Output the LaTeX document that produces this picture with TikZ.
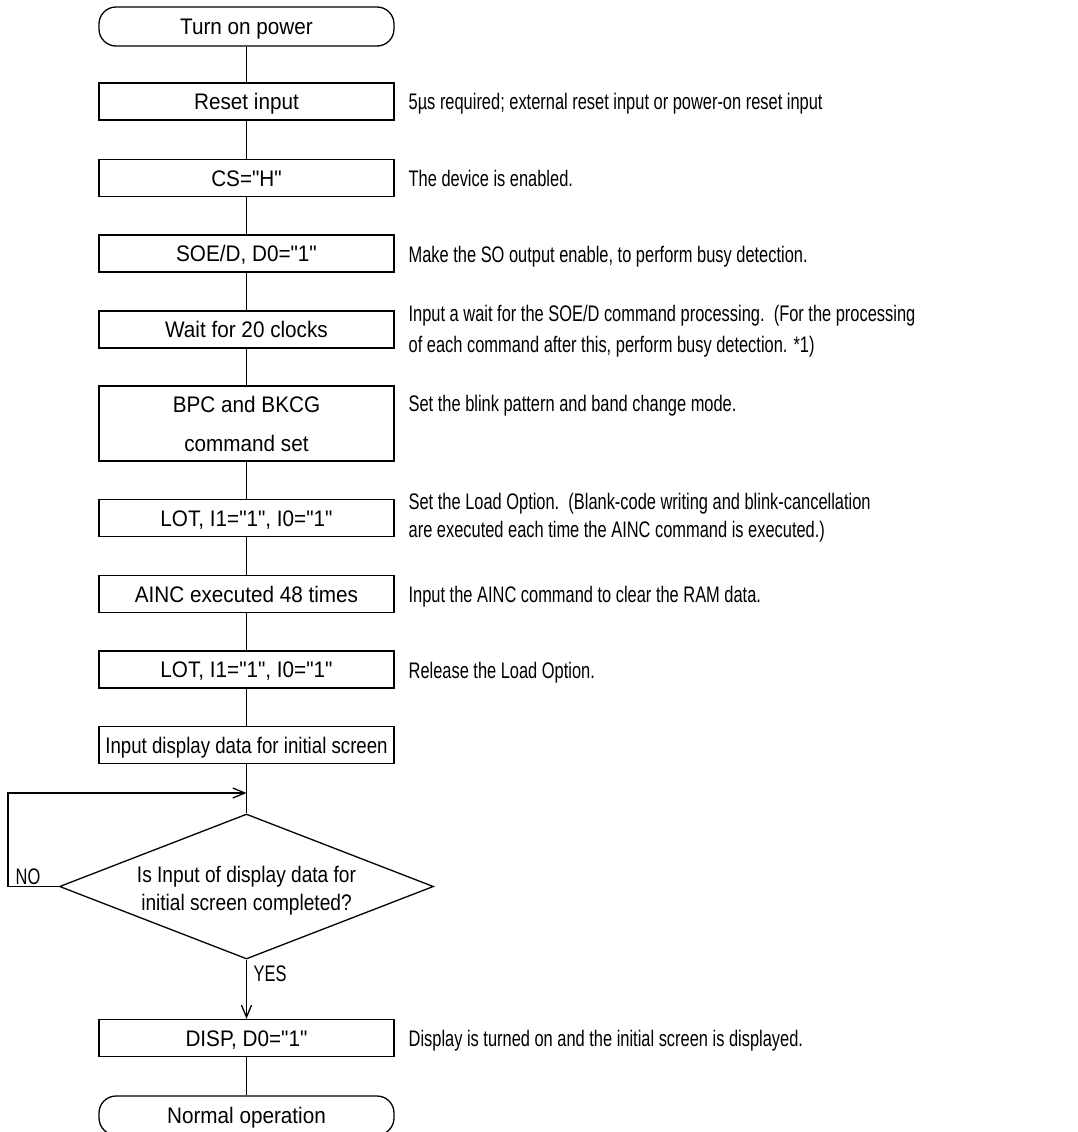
\documentclass[tikz,border=0pt]{standalone}
\usepackage{fontspec}
\setmainfont[FakeStretch=0.73,Ligatures=TeXOff]{Liberation Sans}
\newfontfamily\boxfont[FakeStretch=0.92,Ligatures=TeXOff]{Liberation Sans}
\newfontfamily\tightboxfont[FakeStretch=0.83,Ligatures=TeXOff]{Liberation Sans}
\newfontfamily\decfont[FakeStretch=0.85,Ligatures=TeXOff]{Liberation Sans}
\usetikzlibrary{shapes.geometric,arrows.meta}
\begin{document}
\begin{tikzpicture}[x=1pt,y=-1pt,line width=1.3pt,
  every node/.style={font=\fontsize{22.5}{30}\selectfont},
  boxbase/.style={draw, minimum width=295pt, minimum height=37pt, inner sep=0pt, font=\boxfont\fontsize{22.5}{30}\selectfont},
  onel/.style={text height=16pt, text depth=0pt},
  procbox/.style={boxbase, onel},
  termbox/.style={boxbase, onel, rounded corners=17pt, minimum height=39pt},
  note/.style={anchor=west, inner sep=0pt, align=left},
  lbl/.style={anchor=west, inner sep=0pt, onel},
  arr/.style={-{Straight Barb[length=12pt,width=10pt]}}
]
\useasboundingbox (0,0) rectangle (1077,1132);

% flow boxes
\node[termbox] (start) at (246.5,26.5) {Turn on power};
\node[procbox] (reset) at (246.5,101.5) {Reset input};
\node[procbox] (cs) at (246.5,178) {CS="H"};
\node[procbox] (soe) at (246.5,253.5) {SOE/D, D0="1"};
\node[procbox] (wait) at (246.5,329.5) {Wait for 20 clocks};
\node[boxbase, minimum height=75pt, align=center, font=\boxfont\fontsize{22.5}{39}\selectfont] (bpc) at (246.5,423.5) {BPC and BKCG\\command set};
\node[procbox] (lot1) at (246.5,518) {LOT, I1="1", I0="1"};
\node[procbox] (ainc) at (246.5,594) {AINC executed 48 times};
\node[procbox] (lot2) at (246.5,669.5) {LOT, I1="1", I0="1"};
\node[procbox, font=\tightboxfont\fontsize{22.5}{30}\selectfont] (input) at (246.5,745) {Input display data for initial screen};
\node[draw, diamond, inner sep=0pt, minimum width=374pt, minimum height=145pt] (dec) at (246.5,886.5) {};
\node[align=center, inner sep=0pt, font=\decfont\fontsize{22.5}{28}\selectfont] (dectext) at (246.5,891) {Is Input of display data for\\initial screen completed?};
\node[procbox] (disp) at (246.5,1038) {DISP, D0="1"};
\node[termbox] (end) at (246.5,1115.5) {Normal operation};

% notes
\node[note, onel] (n1) at (408,101.5) {5µs required; external reset input or power-on reset input};
\node[note, onel] (n2) at (408,178) {The device is enabled.};
\node[note, onel] (n3) at (408,254) {Make the SO output enable, to perform busy detection.};
\node[note, font=\fontsize{22.5}{31}\selectfont] (n4) at (408,331) {Input a wait for the SOE/D command processing.\ \ (For the processing\\of each command after this, perform busy detection. *1)};
\node[note, onel] (n5) at (408,403) {Set the blink pattern and band change mode.};
\node[note, font=\fontsize{22.5}{28}\selectfont] (n6) at (408,518) {Set the Load Option.\ \ (Blank-code writing and blink-cancellation\\are executed each time the AINC command is executed.)};
\node[note, onel] (n7) at (408,594) {Input the AINC command to clear the RAM data.};
\node[note, onel] (n8) at (408,670) {Release the Load Option.};
\node[note, onel] (n9) at (408,1038) {Display is turned on and the initial screen is displayed.};

% branch labels
\node[lbl] (no) at (15,876) {NO};
\node[lbl] (yes) at (253,973) {YES};

% connectors
\coordinate (join) at (246.5,793);
\coordinate (lp1) at (8,886.5);
\coordinate (lp2) at (8,793);
\draw (start) -- (reset);
\draw (reset) -- (cs);
\draw (cs) -- (soe);
\draw (soe) -- (wait);
\draw (wait) -- (bpc);
\draw (bpc) -- (lot1);
\draw (lot1) -- (ainc);
\draw (ainc) -- (lot2);
\draw (lot2) -- (input);
\draw (input.south) -- (dec.north);
\draw[arr] (dec.west) -- (lp1) -- (lp2) -- (join);
\draw[arr] (dec.south) -- (disp.north);
\draw (disp) -- (end);
\end{tikzpicture}
\end{document}
